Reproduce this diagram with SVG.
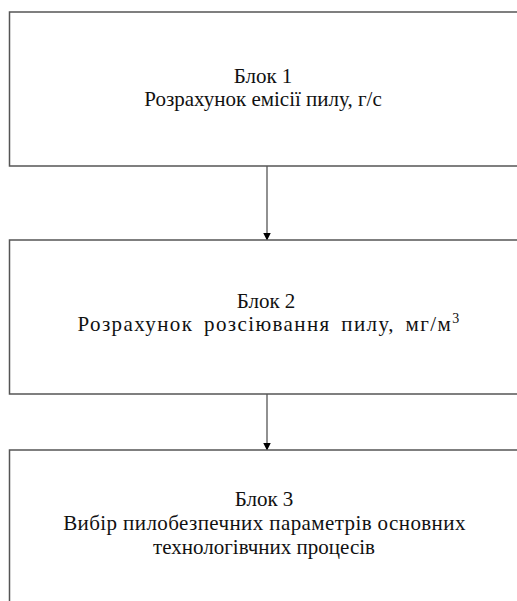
<svg xmlns="http://www.w3.org/2000/svg" width="517" height="601" viewBox="0 0 517 601">
<style>
.box{fill:#fff;stroke:#555;stroke-width:1.5}
.t{font-family:"Liberation Serif","Times New Roman",serif;font-size:21px;fill:#111;text-anchor:middle}
.c{stroke:#555;stroke-width:1.3;fill:none}
</style>
<defs>
<marker id="ah" markerWidth="8" markerHeight="8" refX="7.5" refY="4" orient="auto" markerUnits="userSpaceOnUse">
<path d="M0,0 L8,4 L0,8 Z" fill="#000"/>
</marker>
</defs>
<rect width="517" height="601" fill="#fff"/>
<g id="connectors">
<line class="c" x1="267" y1="166" x2="267" y2="240" marker-end="url(#ah)"/>
<line class="c" x1="267" y1="394" x2="267" y2="450" marker-end="url(#ah)"/>
</g>
<g id="block1">
<rect class="box" x="9.5" y="12" width="520" height="154"/>
<text class="t" x="263" y="83">Блок 1</text>
<text class="t" x="263" y="106">Розрахунок емісії пилу, г/с</text>
</g>
<g id="block2">
<rect class="box" x="9.5" y="240" width="520" height="154"/>
<text class="t" x="266" y="308">Блок 2</text>
<text class="t" x="269" y="331" letter-spacing="1.4" word-spacing="4">Розрахунок розсіювання пилу, мг/м<tspan dy="-8" font-size="14">3</tspan></text>
</g>
<g id="block3">
<rect class="box" x="9.5" y="450" width="520" height="170"/>
<text class="t" x="264" y="506">Блок 3</text>
<text class="t" x="264.5" y="530" letter-spacing="0.4">Вибір пилобезпечних параметрів основних</text>
<text class="t" x="264" y="554">технологівчних процесів</text>
</g>
</svg>
